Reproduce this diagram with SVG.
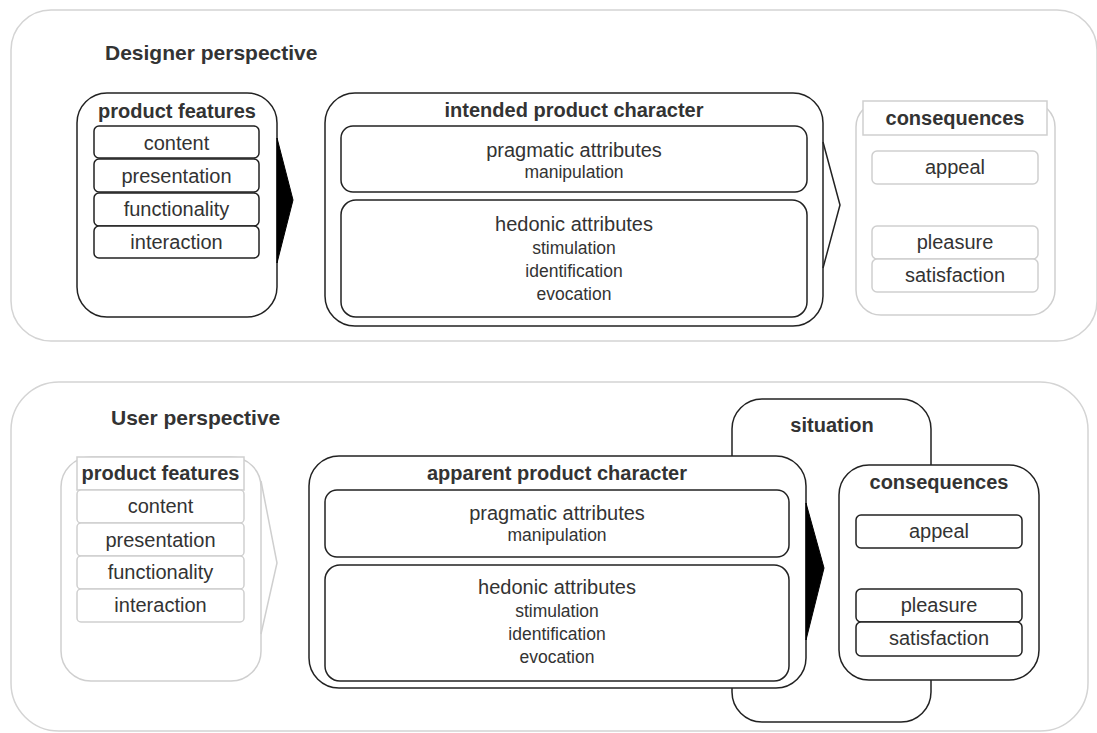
<svg xmlns="http://www.w3.org/2000/svg" width="1097" height="733" viewBox="0 0 1097 733">
<style>
text{font-family:"Liberation Sans",Arial,Helvetica,sans-serif;fill:#333;text-anchor:middle}
.h{font-size:21px;font-weight:bold;text-anchor:start}
.t{font-size:20px;font-weight:bold}
.l{font-size:20px}
.s{font-size:17.5px}
.dk{fill:#fff;stroke:#222;stroke-width:1.5}
.lt{fill:#fff;stroke:#cfcfcf;stroke-width:1.5}
.ctr{fill:#fff;stroke:#d4d4d4;stroke-width:1.5}
</style>
<rect width="1097" height="733" fill="#fff"/>

<g id="designer-perspective">
<rect class="ctr" x="11" y="10" width="1086" height="331" rx="40"/>
<text class="h" x="105" y="60">Designer perspective</text>
</g>
<g id="user-perspective">
<rect class="ctr" x="11" y="382" width="1077" height="349" rx="48"/>
<text class="h" x="111" y="425">User perspective</text>
</g>

<g id="designer-product-features">
<rect class="dk" x="77" y="93" width="200" height="224" rx="30"/>
<text class="t" x="177" y="118">product features</text>
<rect class="dk" x="94" y="126" width="165" height="32" rx="5"/>
<text class="l" x="176.5" y="150">content</text>
<rect class="dk" x="94" y="159" width="165" height="33" rx="5"/>
<text class="l" x="176.5" y="183">presentation</text>
<rect class="dk" x="94" y="193" width="165" height="33" rx="5"/>
<text class="l" x="176.5" y="216">functionality</text>
<rect class="dk" x="94" y="226" width="165" height="32" rx="5"/>
<text class="l" x="176.5" y="249">interaction</text>
</g>

<g id="intended-product-character">
<rect class="dk" x="325" y="93" width="498" height="233" rx="30"/>
<text class="t" x="574" y="117">intended product character</text>
<rect class="dk" x="341" y="126" width="466" height="66" rx="12"/>
<text class="l" x="574" y="157">pragmatic attributes</text>
<text class="s" x="574" y="178">manipulation</text>
<rect class="dk" x="341" y="200" width="466" height="117" rx="15"/>
<text class="l" x="574" y="231">hedonic attributes</text>
<text class="s" x="574" y="254">stimulation</text>
<text class="s" x="574" y="277">identification</text>
<text class="s" x="574" y="300">evocation</text>
</g>

<g id="designer-consequences">
<rect class="lt" x="856" y="102" width="199" height="213" rx="25"/>
<rect class="lt" x="863" y="101" width="184" height="34"/>
<text class="t" x="955" y="125">consequences</text>
<rect class="lt" x="872" y="151" width="166" height="33" rx="5"/>
<text class="l" x="955" y="174">appeal</text>
<rect class="lt" x="872" y="226" width="166" height="33" rx="5"/>
<text class="l" x="955" y="249">pleasure</text>
<rect class="lt" x="872" y="259" width="166" height="33" rx="5"/>
<text class="l" x="955" y="282">satisfaction</text>
</g>

<g id="user-product-features">
<rect class="lt" x="61" y="457" width="200" height="224" rx="30"/>
<rect class="lt" x="77" y="457" width="167" height="33"/>
<text class="t" x="160.5" y="480">product features</text>
<rect class="lt" x="77" y="490" width="167" height="33" rx="4"/>
<text class="l" x="160.5" y="513">content</text>
<rect class="lt" x="77" y="523" width="167" height="33" rx="4"/>
<text class="l" x="160.5" y="547">presentation</text>
<rect class="lt" x="77" y="556" width="167" height="33" rx="4"/>
<text class="l" x="160.5" y="579">functionality</text>
<rect class="lt" x="77" y="589" width="167" height="33" rx="4"/>
<text class="l" x="160.5" y="612">interaction</text>
</g>

<g id="situation">
<rect class="dk" x="732" y="399" width="199" height="323" rx="30"/>
<text class="t" x="832" y="432">situation</text>
</g>

<g id="apparent-product-character">
<rect class="dk" x="309" y="456" width="497" height="232" rx="30"/>
<text class="t" x="557" y="480">apparent product character</text>
<rect class="dk" x="325" y="490" width="464" height="67" rx="12"/>
<text class="l" x="557" y="520">pragmatic attributes</text>
<text class="s" x="557" y="541">manipulation</text>
<rect class="dk" x="325" y="565" width="464" height="116" rx="15"/>
<text class="l" x="557" y="594">hedonic attributes</text>
<text class="s" x="557" y="617">stimulation</text>
<text class="s" x="557" y="640">identification</text>
<text class="s" x="557" y="663">evocation</text>
</g>

<g id="user-consequences">
<rect class="dk" x="839" y="465" width="200" height="215" rx="30"/>
<text class="t" x="939" y="489">consequences</text>
<rect class="dk" x="856" y="515" width="166" height="33" rx="5"/>
<text class="l" x="939" y="538">appeal</text>
<rect class="dk" x="856" y="589" width="166" height="33" rx="5"/>
<text class="l" x="939" y="612">pleasure</text>
<rect class="dk" x="856" y="622" width="166" height="34" rx="5"/>
<text class="l" x="939" y="645">satisfaction</text>
</g>

<g id="connectors">
<polygon points="277,138 293,200 277,263" fill="#000" stroke="#000" stroke-width="1" stroke-linejoin="round"/>
<polyline points="823,142 840,205 823,268" fill="none" stroke="#222" stroke-width="1.5"/>
<polyline points="261,481 277,563 261,634" fill="none" stroke="#cfcfcf" stroke-width="1.5"/>
<polygon points="806,503 824,568 806,640" fill="#000" stroke="#000" stroke-width="1" stroke-linejoin="round"/>
</g>
</svg>
